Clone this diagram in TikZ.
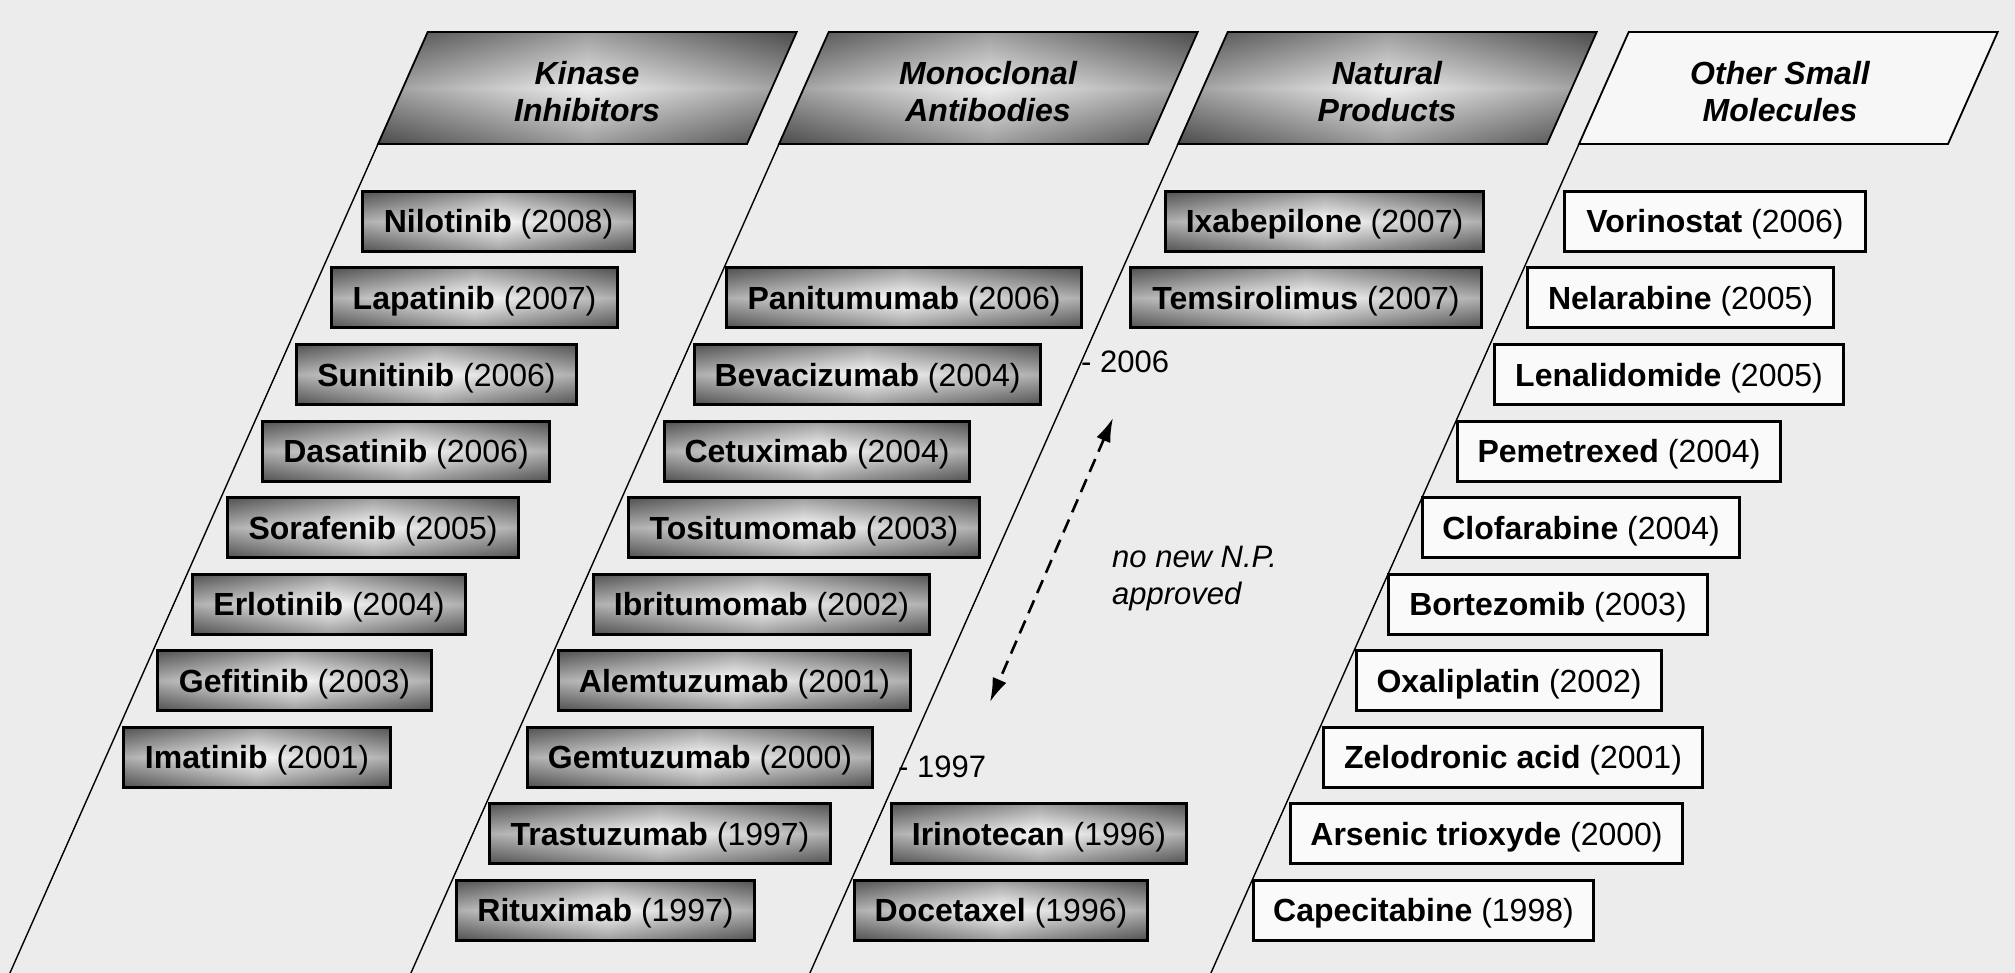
\documentclass[tikz,border=0pt]{standalone}
\usepackage{fontspec}
\setmainfont{Liberation Sans}
\usetikzlibrary{arrows.meta}
\definecolor{bgc}{RGB}{236,236,236}
\definecolor{bxdark}{RGB}{82,82,82}
\definecolor{bxlight}{RGB}{252,252,252}
\definecolor{hddark}{RGB}{72,72,72}
\definecolor{hdlight}{RGB}{238,238,238}
\definecolor{othfill}{RGB}{247,247,247}
\definecolor{litebox}{RGB}{250,250,250}
\newcommand{\drugnode}[7]{%
  \node[#1, minimum width={(#4-#3-3)*1pt}] (#2) at ({(#3+#4)/2},{221.5+76.5*#5}) {\textbf{#6} (#7)};%
}
\tikzset{
  drugbase/.style={draw=black, line width=3pt, minimum height=60pt, inner sep=0pt,
    text height=23pt, text depth=0pt, font=\fontsize{32}{37}\selectfont},
  darkdrug/.style={drugbase, path picture={
    \shade[left color=bxdark, right color=bxdark, middle color=bxlight]
      (path picture bounding box.south west) rectangle (path picture bounding box.north east);
    \shade[top color=bxdark, bottom color=bxdark, middle color=bxlight, opacity=0.55]
      (path picture bounding box.south west) rectangle (path picture bounding box.north east);}},
  litedrug/.style={drugbase, fill=litebox},
  hdrline/.style={draw=black, line width=1.8pt, line join=miter},
  hdrtext/.style={align=center, inner sep=0pt, font=\bfseries\itshape\fontsize{32}{37}\selectfont},
  colline/.style={draw=black, line width=1.4pt},
  yearlabel/.style={anchor=base west, inner sep=0pt, font=\fontsize{31}{37}\selectfont},
  dasharrow/.style={draw=black, line width=2.6pt, dash pattern=on 14pt off 8pt,
    {Latex[length=24pt,width=15pt]}-{Latex[length=24pt,width=15pt]}},
}
\begin{document}
\begin{tikzpicture}[x=1pt,y=-1pt]
\useasboundingbox (0,0) rectangle (2015,973);
\fill[bgc] (0,0) rectangle (2015,973);

% headers and column lines
\foreach \bx/\nm in {378/kin,779/mab,1178/nat}{
  \begin{scope}
    \clip (\bx,144) -- ++(369,0) -- ++(49.7,-112) -- ++(-369,0) -- cycle;
    \shade[left color=hddark, right color=hddark, middle color=hdlight] (\bx,30) rectangle ({\bx+420},146);
    \shade[top color=hddark, bottom color=hddark, middle color=hdlight, opacity=0.5] (\bx,30) rectangle ({\bx+420},146);
  \end{scope}
  \draw[hdrline] (\bx,144) -- ++(369,0) -- ++(49.7,-112) -- ++(-369,0) -- cycle;
  \coordinate (\nm bl) at (\bx,144);
  \coordinate (\nm end) at ({\bx-372.5},983);
  \draw[colline] (\nm bl) -- (\nm end);
}
\draw[hdrline, fill=othfill] (1579,144) -- ++(369,0) -- ++(49.7,-112) -- ++(-369,0) -- cycle;
\coordinate (othbl) at (1579,144);
\coordinate (othend) at (1206.5,983);
\draw[colline] (othbl) -- (othend);

\node[hdrtext] (kinhead) at (587,92) {Kinase\\Inhibitors};
\node[hdrtext] (mabhead) at (988,92) {Monoclonal\\Antibodies};
\node[hdrtext] (nathead) at (1387,92) {Natural\\Products};
\node[hdrtext] (othhead) at (1780,92) {Other Small\\Molecules};

% kinase inhibitors
\drugnode{darkdrug}{nilotinib}{361}{636}{0}{Nilotinib}{2008}
\drugnode{darkdrug}{lapatinib}{330}{619}{1}{Lapatinib}{2007}
\drugnode{darkdrug}{sunitinib}{295}{578}{2}{Sunitinib}{2006}
\drugnode{darkdrug}{dasatinib}{261}{551}{3}{Dasatinib}{2006}
\drugnode{darkdrug}{sorafenib}{226}{520}{4}{Sorafenib}{2005}
\drugnode{darkdrug}{erlotinib}{191}{467}{5}{Erlotinib}{2004}
\drugnode{darkdrug}{gefitinib}{156}{433}{6}{Gefitinib}{2003}
\drugnode{darkdrug}{imatinib}{122}{392}{7}{Imatinib}{2001}

% monoclonal antibodies
\drugnode{darkdrug}{panitumumab}{725}{1083}{1}{Panitumumab}{2006}
\drugnode{darkdrug}{bevacizumab}{693}{1042}{2}{Bevacizumab}{2004}
\drugnode{darkdrug}{cetuximab}{663}{971}{3}{Cetuximab}{2004}
\drugnode{darkdrug}{tositumomab}{627}{981}{4}{Tositumomab}{2003}
\drugnode{darkdrug}{ibritumomab}{592}{931}{5}{Ibritumomab}{2002}
\drugnode{darkdrug}{alemtuzumab}{557}{912}{6}{Alemtuzumab}{2001}
\drugnode{darkdrug}{gemtuzumab}{526}{874}{7}{Gemtuzumab}{2000}
\drugnode{darkdrug}{trastuzumab}{488}{832}{8}{Trastuzumab}{1997}
\drugnode{darkdrug}{rituximab}{455}{756}{9}{Rituximab}{1997}

% natural products
\drugnode{darkdrug}{ixabepilone}{1164}{1485}{0}{Ixabepilone}{2007}
\drugnode{darkdrug}{temsirolimus}{1129}{1483}{1}{Temsirolimus}{2007}
\drugnode{darkdrug}{irinotecan}{890}{1188}{8}{Irinotecan}{1996}
\drugnode{darkdrug}{docetaxel}{853}{1149}{9}{Docetaxel}{1996}

% other small molecules
\drugnode{litedrug}{vorinostat}{1563}{1867}{0}{Vorinostat}{2006}
\drugnode{litedrug}{nelarabine}{1526}{1835}{1}{Nelarabine}{2005}
\drugnode{litedrug}{lenalidomide}{1493}{1845}{2}{Lenalidomide}{2005}
\drugnode{litedrug}{pemetrexed}{1456}{1782}{3}{Pemetrexed}{2004}
\drugnode{litedrug}{clofarabine}{1421}{1741}{4}{Clofarabine}{2004}
\drugnode{litedrug}{bortezomib}{1387}{1709}{5}{Bortezomib}{2003}
\drugnode{litedrug}{oxaliplatin}{1355}{1663}{6}{Oxaliplatin}{2002}
\drugnode{litedrug}{zelodronic}{1322}{1704}{7}{Zelodronic acid}{2001}
\drugnode{litedrug}{arsenic}{1289}{1684}{8}{Arsenic trioxyde}{2000}
\drugnode{litedrug}{capecitabine}{1252}{1595}{9}{Capecitabine}{1998}

% annotations
\node[yearlabel] (y2006) at (1081,372) {- 2006};
\node[yearlabel] (y1997) at (898,777) {- 1997};
\coordinate (gaptop) at (1113,418);
\coordinate (gapbot) at (990,702);
\draw[dasharrow] (gaptop) -- (gapbot);
\node[anchor=west, align=left, inner sep=0pt, font=\itshape\fontsize{31}{37}\selectfont] (nonew) at (1112,578.5) {no new N.P.\\approved};
\end{tikzpicture}
\end{document}
